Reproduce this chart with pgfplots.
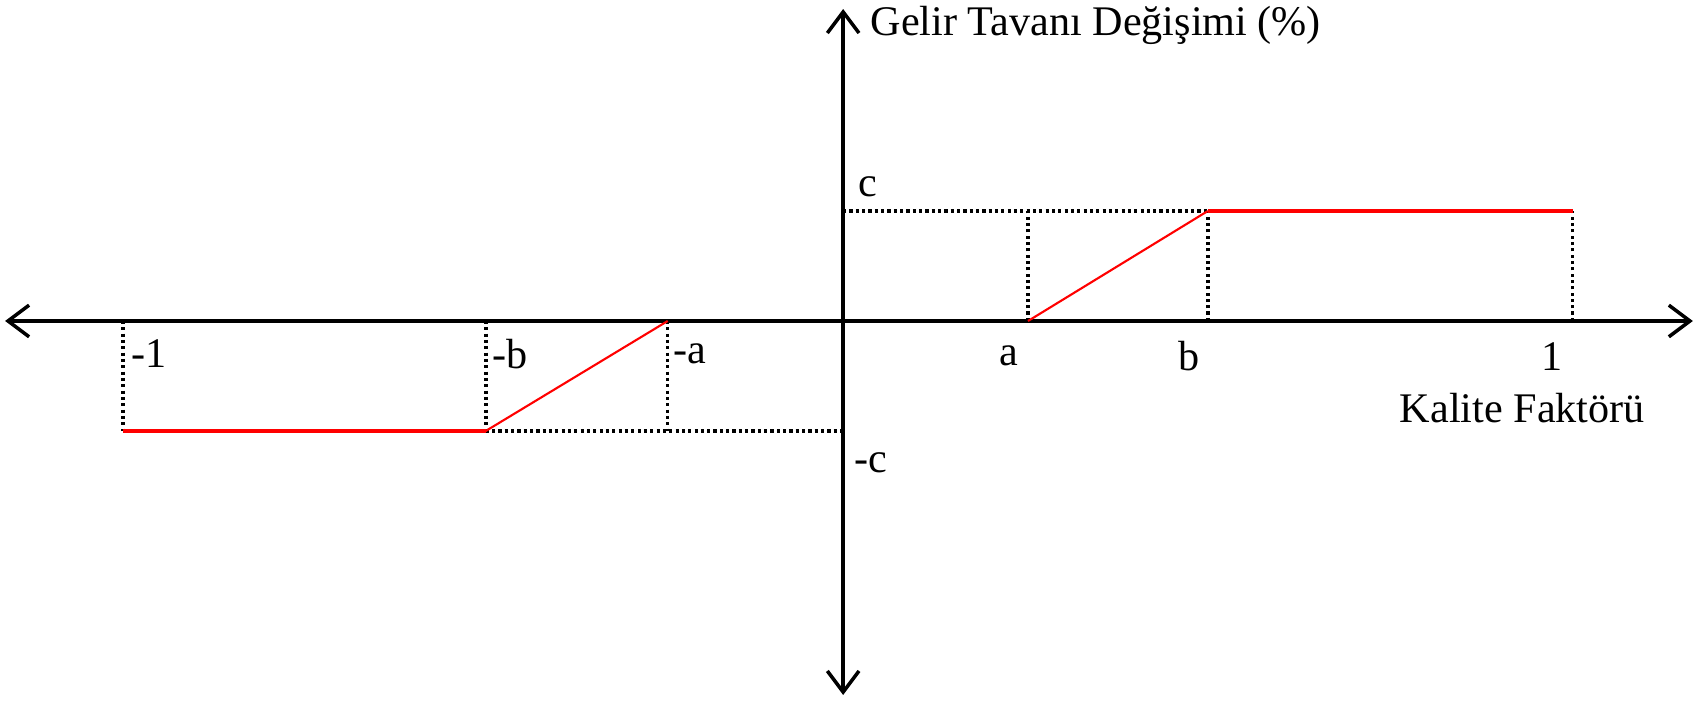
\documentclass[border=0pt]{standalone}
\usepackage{fontspec}
\setmainfont{Liberation Serif}
\usepackage{pgfplots}
\pgfplotsset{compat=1.18}
\usetikzlibrary{arrows.meta}

\tikzset{
  barbs/.style={{Straight Barb[length=6pt,width=9pt]}-{Straight Barb[length=6pt,width=9pt]}},
  guide/.style={black, line width=1pt, dash pattern=on 0.9pt off 0.9pt},
}

\begin{document}
\begin{tikzpicture}[font=\fontsize{12}{14}\selectfont]
\begin{axis}[
    x=7.25cm, y=1.1cm,
    xmin=-1.156, xmax=1.172,
    ymin=-3.40, ymax=2.836,
    axis lines=middle,
    axis line style={line width=1pt, barbs},
    every inner x axis line/.append style={barbs},
    every inner y axis line/.append style={barbs},
    xtick=\empty, ytick=\empty,
    clip=false,
]
% fixed page size
\path (axis cs:-1.163,-3.4545) rectangle (axis cs:1.1915,2.918);

% dotted guides
\addplot[guide] coordinates {(-0.993,0) (-0.993,-1)};
\addplot[guide] coordinates {(-0.493,0) (-0.493,-1)};
\addplot[guide] coordinates {(-0.242,0) (-0.242,-1)};
\addplot[guide] coordinates {(-0.493,-1) (0,-1)};
\addplot[guide] coordinates {(0.255,0) (0.255,1)};
\addplot[guide] coordinates {(0.503,0) (0.503,1)};
\addplot[guide] coordinates {(1.006,0) (1.006,1)};
\addplot[guide] coordinates {(0,1) (0.503,1)};

% quality factor curve
\addplot[red, line width=1.2pt] coordinates {(-0.993,-1) (-0.493,-1)};
\addplot[red, line width=0.6pt] coordinates {(-0.493,-1) (-0.242,0)};
\addplot[red, line width=0.6pt] coordinates {(0.255,0) (0.503,1)};
\addplot[red, line width=1.2pt] coordinates {(0.503,1) (1.006,1)};

% labels
\node[anchor=west, inner sep=0pt] at (axis cs:-0.983,-0.30) {-1};
\node[anchor=west, inner sep=0pt] at (axis cs:-0.485,-0.30) {-b};
\node[anchor=west, inner sep=0pt] at (axis cs:-0.235,-0.30) {-a};
\node[anchor=east, inner sep=0pt] at (axis cs:0.243,-0.32) {a};
\node[anchor=east, inner sep=0pt] at (axis cs:0.493,-0.32) {b};
\node[anchor=east, inner sep=0pt] at (axis cs:0.993,-0.32) {1};
\node[anchor=west, inner sep=0pt] at (axis cs:0.02,1.22) {c};
\node[anchor=west, inner sep=0pt] at (axis cs:0.015,-1.29) {-c};
\node[anchor=west, inner sep=0pt] at (axis cs:0.767,-0.79) {Kalite Faktörü};
\node[anchor=west, inner sep=0pt] at (axis cs:0.037,2.69) {Gelir Tavanı Değişimi (\%)};
\end{axis}
\end{tikzpicture}
\end{document}
